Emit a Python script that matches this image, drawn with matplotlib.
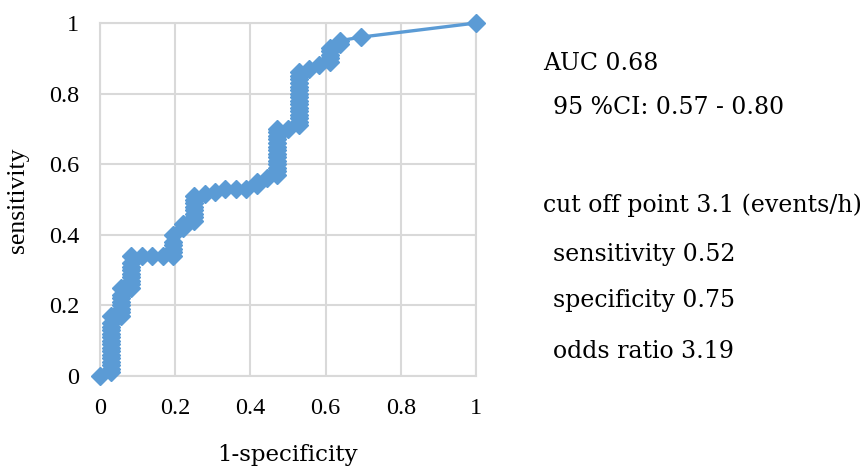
import matplotlib
matplotlib.use("Agg")
import matplotlib.pyplot as plt

# ROC curve points (1-specificity, sensitivity)
fpr = [0.0, 0.028, 0.028, 0.028, 0.028, 0.028, 0.028, 0.028, 0.028, 0.028,
       0.028, 0.028, 0.028, 0.028, 0.028, 0.028, 0.028,
       0.056, 0.056, 0.056, 0.056, 0.056, 0.056, 0.056, 0.056,
       0.083, 0.083, 0.083, 0.083, 0.083, 0.083, 0.083, 0.083, 0.083,
       0.111, 0.139, 0.167,
       0.194, 0.194, 0.194, 0.194, 0.194, 0.194,
       0.222, 0.222,
       0.250, 0.250, 0.250, 0.250, 0.250, 0.250, 0.250, 0.250,
       0.278, 0.306, 0.333, 0.361, 0.389,
       0.417, 0.417, 0.444,
       0.472, 0.472, 0.472, 0.472, 0.472, 0.472, 0.472, 0.472, 0.472, 0.472,
       0.472, 0.472, 0.472, 0.472,
       0.500,
       0.528, 0.528, 0.528, 0.528, 0.528, 0.528, 0.528, 0.528, 0.528, 0.528,
       0.528, 0.528, 0.528, 0.528, 0.528, 0.528,
       0.556, 0.583,
       0.611, 0.611, 0.611, 0.611, 0.611,
       0.639, 0.639, 0.694, 1.0]
tpr = [0.0, 0.01, 0.02, 0.03, 0.04, 0.05, 0.06, 0.07, 0.08, 0.09,
       0.10, 0.11, 0.12, 0.13, 0.14, 0.15, 0.17,
       0.17, 0.18, 0.19, 0.20, 0.21, 0.22, 0.23, 0.25,
       0.25, 0.26, 0.27, 0.28, 0.29, 0.30, 0.31, 0.32, 0.34,
       0.34, 0.34, 0.34,
       0.34, 0.35, 0.36, 0.37, 0.38, 0.40,
       0.42, 0.43,
       0.44, 0.45, 0.46, 0.47, 0.48, 0.49, 0.50, 0.51,
       0.515, 0.52, 0.53, 0.53, 0.53,
       0.54, 0.55, 0.56,
       0.57, 0.58, 0.59, 0.60, 0.61, 0.62, 0.63, 0.64, 0.65, 0.66,
       0.67, 0.68, 0.69, 0.70,
       0.70,
       0.71, 0.72, 0.73, 0.74, 0.75, 0.76, 0.77, 0.78, 0.79, 0.80,
       0.81, 0.82, 0.83, 0.84, 0.85, 0.86,
       0.87, 0.88,
       0.89, 0.90, 0.91, 0.92, 0.93,
       0.94, 0.95, 0.96, 1.0]

ticks = [0, 0.2, 0.4, 0.6, 0.8, 1]
tick_labels = ["0", "0.2", "0.4", "0.6", "0.8", "1"]

info_lines = [
    ("AUC 0.68", 0, 63),
    ("95 %CI: 0.57 - 0.80", 1, 108),
    ("cut off point 3.1 (events/h)", 0, 205),
    ("sensitivity 0.52", 1, 254),
    ("specificity 0.75", 1, 300),
    ("odds ratio 3.19", 1, 351),
]

W, H = 865, 470
fig = plt.figure(figsize=(W / 100, H / 100), dpi=100)
ax = fig.add_axes([100 / W, 1 - 376 / H, 376 / W, 353 / H])

blue = "#5B9BD5"
grid = "#D9D9D9"
ax.plot(fpr, tpr, color=blue, linewidth=2.4, marker="D", markersize=9,
        markerfacecolor=blue, markeredgecolor=blue, clip_on=False, zorder=3)

ax.set_xlim(0, 1)
ax.set_ylim(0, 1)
ax.set_xticks(ticks)
ax.set_yticks(ticks)
ax.set_xticklabels(tick_labels, fontfamily="Liberation Serif", fontsize=17.5)
ax.set_yticklabels(tick_labels, fontfamily="Liberation Serif", fontsize=17.5)
ax.tick_params(length=0, pad=15, colors="black")
ax.tick_params(axis="x", pad=16)
ax.grid(True, color=grid, linewidth=1.5)
for s in ax.spines.values():
    s.set_color(grid)
    s.set_linewidth(1.5)
ax.set_axisbelow(True)

fig.text(18 / W, 1 - 200 / H, "sensitivity", rotation=90, ha="center", va="center",
         fontfamily="Liberation Serif", fontsize=18.5)
fig.text(287 / W, 1 - 455 / H, "1-specificity", ha="center", va="center",
         fontfamily="DejaVu Serif", fontsize=16.5)

for text, indent, yc in info_lines:
    x = 543 + (10 if indent else 0)
    fig.text(x / W, 1 - yc / H, text, ha="left", va="center",
             fontfamily="DejaVu Serif", fontsize=17)

fig.savefig("out.png", dpi=100)
